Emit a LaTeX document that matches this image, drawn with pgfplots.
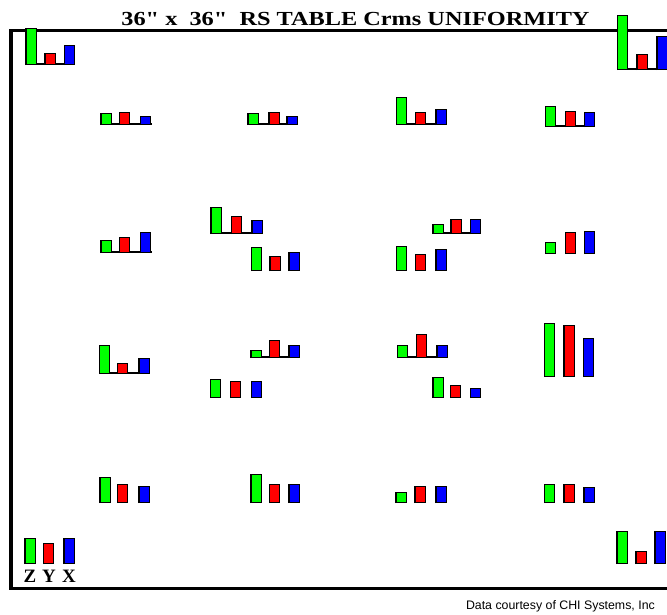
\documentclass[border=0pt]{standalone}
\usepackage{pgfplots}
\pgfplotsset{compat=1.18}
\usepackage{pgfplotstable}
\usepackage{fontspec}
\setmainfont{Liberation Serif}[Ligatures=TeXOff]
\newfontfamily\sansf{Liberation Sans}
\definecolor{cg}{RGB}{0,255,0}
\definecolor{cr}{RGB}{255,0,0}
\definecolor{cb}{RGB}{0,0,255}

% bars: x = centre (px), base = bottom (px, downward), top = top (px)
\pgfplotstableread{
x     base top
31    64   29
622.5 69   16
30    563  539
622   563  532
106   124  114
253   124  114
401.5 124  98
550.5 126  107
106   252  241
216   233  208
256.5 270  248
401.5 270  247
438   233  225
550.5 253  243
104.5 373  346
256   357  351
215.5 397  380
402.5 357  346
438   397  378
549.5 376  324
105   502  478
256   502  475
401   502  493
549.5 502  485
}\greenbars
\pgfplotstableread{
x     base top
50    64   54
642   69   55
48.5  563  544
641   563  552
124.5 124  113
274   124  113
420.5 124  113
570.5 126  112
124.5 252  238
236.5 233  217
275   270  257
420.5 270  255
456   233  220
570.5 253  233
122.5 373  364
274.5 357  341
235.5 397  382
421.5 357  335
455.5 397  386
569   376  326
122.5 502  485
274.5 502  485
420   502  487
569   502  485
}\redbars
\pgfplotstableread{
x     base top
69.5  64   46
662   69   37
69    563  539
660   563  532
145.5 124  117
292   124  117
441   124  110
589.5 126  113
145.5 252  233
257   233  221
294   270  253
441   270  250
475.5 233  220
589.5 253  232
144   373  359
294   357  346
256.5 397  382
442   357  346
475.5 397  389
588.5 376  339
144   502  487
294   502  485
441   502  487
589   502  488
}\bluebars
% baselines under some groups: x0 x1 y
\pgfplotstableread{
x0   x1   y
26   74   64.5
617  667  69
101  152  124
248  298  124
397  446  124
546  595  126
101  152  252
211  262  233
433  481  233
99   150  373
251  300  357
398  447  357
}\baselines

\begin{document}
\begin{tikzpicture}
\begin{axis}[
  scale only axis, width=667bp, height=615bp,
  xmin=0, xmax=667, ymin=0, ymax=615, y dir=reverse,
  hide axis, clip=false,
]
% frame
\draw[line width=3.5bp, miter limit=10] (axis cs:667,30.5) -- (axis cs:11,30.5) -- (axis cs:11,588.5) -- (axis cs:667,588.5);
% baselines
\addplot[no markers, black, line width=2bp, -,
  quiver={u=\thisrow{x1}-\thisrow{x0}, v=0}] table[x=x0, y=y] {\baselines};
% outlines
\addplot[no markers, black, line width=11.6bp, -,
  quiver={u=0, v=\thisrow{top}-\thisrow{base}-2.2}] table[x=x, y expr=\thisrow{base}+1.1] {\greenbars};
\addplot[no markers, black, line width=11.6bp, -,
  quiver={u=0, v=\thisrow{top}-\thisrow{base}-2.2}] table[x=x, y expr=\thisrow{base}+1.1] {\redbars};
\addplot[no markers, black, line width=11.6bp, -,
  quiver={u=0, v=\thisrow{top}-\thisrow{base}-2.2}] table[x=x, y expr=\thisrow{base}+1.1] {\bluebars};
% bars
\addplot[no markers, cg, line width=9bp, -,
  quiver={u=0, v=\thisrow{top}-\thisrow{base}}] table[x=x, y=base] {\greenbars};
\addplot[no markers, cr, line width=9bp, -,
  quiver={u=0, v=\thisrow{top}-\thisrow{base}}] table[x=x, y=base] {\redbars};
\addplot[no markers, cb, line width=9bp, -,
  quiver={u=0, v=\thisrow{top}-\thisrow{base}}] table[x=x, y=base] {\bluebars};
% texts
\node[anchor=base, inner sep=0pt, font=\bfseries\fontsize{20}{20}\selectfont] at (axis cs:355.5,26) {\scalebox{1.22}[1]{36" x\ \ 36"\ \ RS TABLE Crms UNIFORMITY}};
\node[anchor=base, inner sep=0pt, font=\bfseries\fontsize{19}{19}\selectfont] at (axis cs:30,582) {Z};
\node[anchor=base, inner sep=0pt, font=\bfseries\fontsize{19}{19}\selectfont] at (axis cs:49,582) {Y};
\node[anchor=base, inner sep=0pt, font=\bfseries\fontsize{19}{19}\selectfont] at (axis cs:69,582) {X};
\node[anchor=base east, inner sep=0pt, font=\sansf\fontsize{12.4}{12.4}\selectfont] at (axis cs:655,609) {Data courtesy of CHI Systems, Inc};
\end{axis}
\pgfresetboundingbox
\path (current axis.south west) rectangle (current axis.north east);
\end{tikzpicture}
\end{document}
